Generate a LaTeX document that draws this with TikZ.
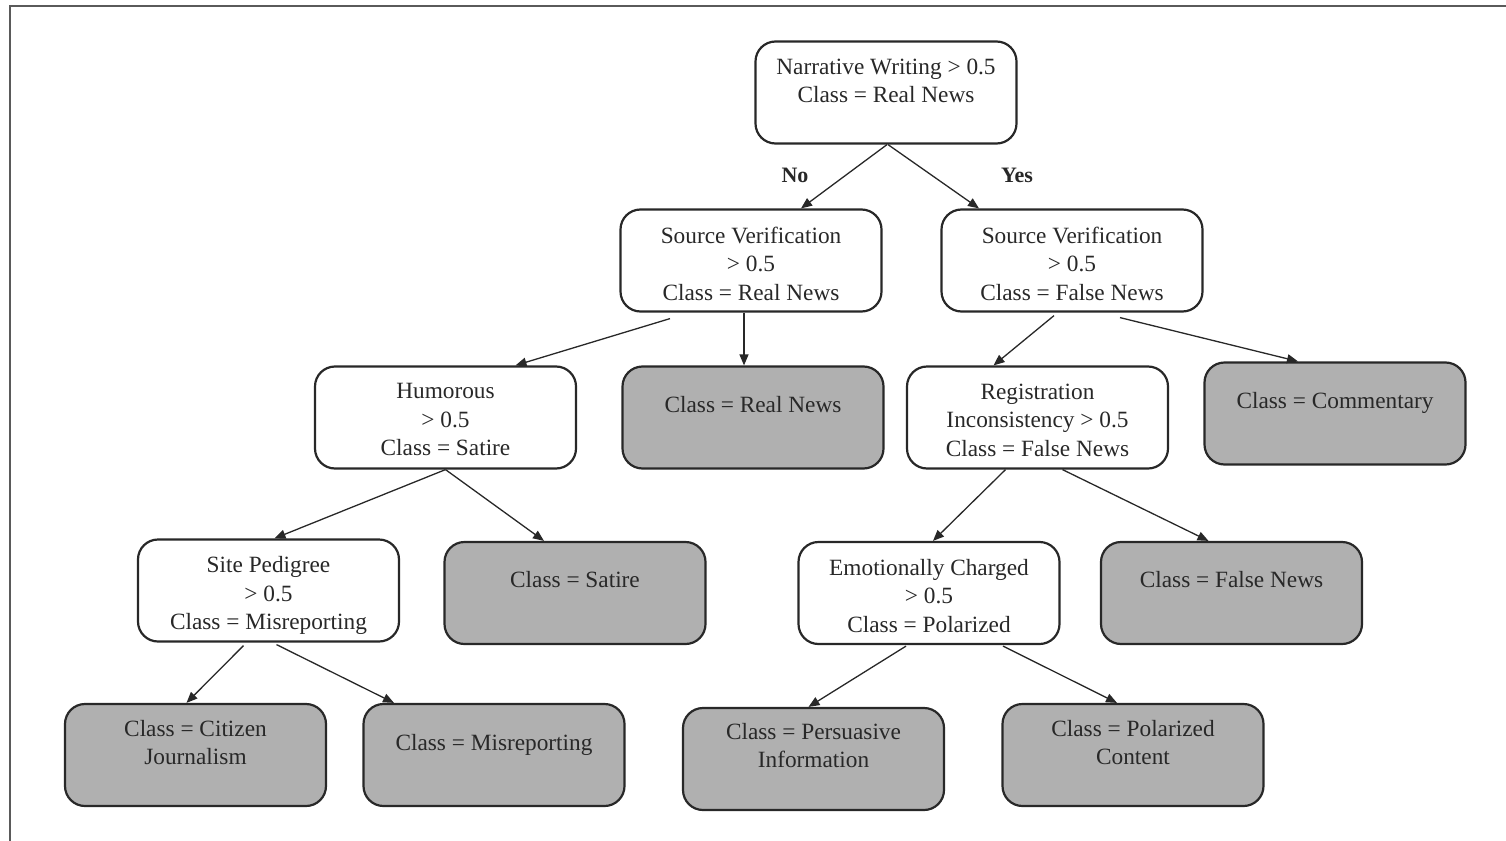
\documentclass[tikz,border=0pt]{standalone}
\usepackage{fontspec}
\setmainfont{Liberation Serif}
\usetikzlibrary{calc,arrows.meta}
\definecolor{ink}{RGB}{40,40,40}
\definecolor{leaffill}{RGB}{176,176,176}
\definecolor{framegray}{RGB}{90,90,90}
\tikzset{
  box/.style={draw=ink, line width=2.2pt, rounded corners=20pt,
    minimum width=261pt, minimum height=102pt, inner sep=0pt},
  test/.style={box, fill=white},
  leaf/.style={box, fill=leaffill},
  txt/.style={anchor=north, align=center, inner sep=0pt, text=ink,
    font=\fontsize{23.3}{28.5}\selectfont},
  edge/.style={draw=ink, line width=1.3pt, -{Triangle[length=11pt,width=9pt]}},
  branch/.style={font=\fontsize{22}{26}\selectfont\bfseries, text=ink, inner sep=0pt}
}
\begin{document}
\begin{tikzpicture}[x=1pt,y=-1pt]
\useasboundingbox (0,0) rectangle (1506,840);
% outer frame (left and top edges visible)
\draw[framegray, line width=2.5pt] (10,842) -- (10,6) -- (1508,6);

% decision nodes
\node[test] (root) at (886,92.5) {};
\node[test] (svl)  at (751,260.5) {};
\node[test] (svr)  at (1072,260.5) {};
\node[test] (hum)  at (445.5,417.5) {};
\node[test] (reg)  at (1037.5,417.5) {};
\node[test] (site) at (268.5,590.5) {};
\node[test] (emo)  at (929,593) {};
% leaves
\node[leaf] (rn)  at (753,417.5) {};
\node[leaf] (com) at (1335,413.5) {};
\node[leaf] (sat) at (575,593) {};
\node[leaf] (fn)  at (1231.5,593) {};
\node[leaf] (cit) at (195.5,755) {};
\node[leaf] (mis) at (494,755) {};
\node[leaf] (per) at (813.5,759) {};
\node[leaf] (pol) at (1133,755) {};

% texts
\node[txt] (rootT) at ($(root.north)+(0,18)$) {Narrative Writing > 0.5\\Class = Real News};
\node[txt] (svlT)  at ($(svl.north)+(0,18)$) {Source Verification\\> 0.5\\Class = Real News};
\node[txt] (svrT)  at ($(svr.north)+(0,18)$) {Source Verification\\> 0.5\\Class = False News};
\node[txt] (humT)  at ($(hum.north)+(0,18)$) {Humorous\\> 0.5\\Class = Satire};
\node[txt] (regT)  at ($(reg.north)+(0,18)$) {Registration\\Inconsistency > 0.5\\Class = False News};
\node[txt] (siteT) at ($(site.north)+(0,18)$) {Site Pedigree\\> 0.5\\Class = Misreporting};
\node[txt] (emoT)  at ($(emo.north)+(0,18)$) {Emotionally Charged\\> 0.5\\Class = Polarized};
\node[txt] (rnT)   at ($(rn.north)+(0,31)$) {Class = Real News};
\node[txt] (comT)  at ($(com.north)+(0,31)$) {Class = Commentary};
\node[txt] (satT)  at ($(sat.north)+(0,30)$) {Class = Satire};
\node[txt] (fnT)   at ($(fn.north)+(0,30)$) {Class = False News};
\node[txt] (misT)  at ($(mis.north)+(0,31)$) {Class = Misreporting};
\node[txt] (citT)  at ($(cit.north)+(0,17)$) {Class = Citizen\\Journalism};
\node[txt] (perT)  at ($(per.north)+(0,16)$) {Class = Persuasive\\Information};
\node[txt] (polT)  at ($(pol.north)+(0,17)$) {Class = Polarized\\Content};

% branch labels
\node[branch] (no)  at (795,175) {No};
\node[branch] (yes) at (1017,175) {Yes};

% connectors
\draw[edge] ($(root.south)+(1,0)$) -- ($(svl.north)+(50,0)$);
\draw[edge] ($(root.south)+(2,0)$) -- ($(svr.north)+(-93,0)$);
\draw[edge] ($(svl.south)+(-81,6)$) -- ($(hum.north)+(70,0)$);
\draw[edge] ($(svl.south)+(-7,0)$) -- ($(rn.north)+(-9,0)$);
\draw[edge] ($(svr.south)+(-18,3)$) -- ($(reg.north)+(-44,0)$);
\draw[edge] ($(svr.south)+(48,5)$) -- ($(com.north)+(-37,0)$);
\draw[edge] (hum.south) -- ($(site.north)+(6,0)$);
\draw[edge] (hum.south) -- ($(sat.north)+(-31,0)$);
\draw[edge] ($(reg.south)+(-32,0)$) -- ($(emo.north)+(4,0)$);
\draw[edge] ($(reg.south)+(25,0)$) -- ($(fn.north)+(-23,0)$);
\draw[edge] ($(site.south)+(-25,3)$) -- ($(cit.north)+(-9,0)$);
\draw[edge] ($(site.south)+(8,2)$) -- ($(mis.north)+(-100,0)$);
\draw[edge] ($(emo.south)+(-23,1)$) -- ($(per.north)+(-5,0)$);
\draw[edge] ($(emo.south)+(74,1)$) -- ($(pol.north)+(-16,0)$);
\end{tikzpicture}
\end{document}
